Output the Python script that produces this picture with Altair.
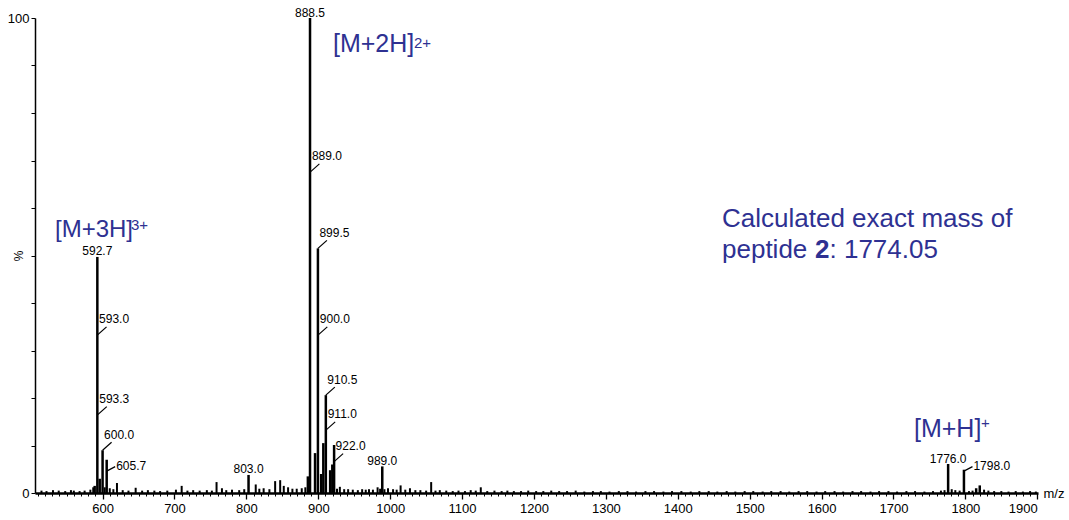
import altair as alt
import pandas as pd

# ---------------- data ----------------
peak_mz = [589.0, 592.7, 596.0, 600.0, 605.7, 803.0, 885.5, 888.5, 895.5, 899.5,
           904.0, 907.0, 910.5, 916.5, 919.5, 922.0, 989.0, 1776.0, 1798.0, 1815.0, 1820.0]
peak_int = [1.5, 49.7, 3.0, 9.0, 7.0, 3.8, 3.5, 100.0, 8.4, 51.5,
            4.0, 10.5, 20.6, 4.8, 6.0, 10.1, 5.6, 6.1, 4.9, 1.0, 1.6]

noise_mz = [515, 522, 531, 539, 548, 556, 560, 568, 575, 583, 587, 603, 610, 615, 620,
            628, 636, 646, 655, 663, 672, 680, 690, 702, 710, 718, 726, 735, 745, 752,
            758.5, 766, 772, 780, 790, 797, 813, 818, 824, 832, 840, 847, 852, 858, 864,
            870, 877, 882, 926, 930, 936, 941.5, 948, 955, 961, 966, 970.5, 976, 982.5,
            986, 992, 997, 1004, 1009, 1014.5, 1021, 1027.5, 1035, 1042, 1050, 1057, 1063,
            1069, 1078, 1087, 1095, 1104, 1112, 1119, 1126, 1135, 1145, 1155, 1163, 1172,
            1182, 1192, 1203, 1213, 1224, 1235, 1246, 1258, 1270, 1282, 1293, 1305, 1318,
            1330, 1342, 1355, 1367, 1380, 1392, 1405, 1418, 1430, 1443, 1455, 1468, 1480,
            1493, 1505, 1518, 1530, 1543, 1555, 1568, 1580, 1593, 1605, 1618, 1630, 1643,
            1655, 1668, 1680, 1693, 1705, 1718, 1730, 1743, 1755, 1766, 1771, 1781, 1786,
            1792, 1805, 1810, 1826, 1832, 1840, 1850, 1860, 1870, 1880, 1890, 1898]
noise_int = [0.5, 0.4, 0.6, 0.5, 0.4, 0.6, 0.5, 0.4, 0.5, 0.7, 1.2, 1.2, 1.0, 0.8, 2.1,
             0.6, 0.5, 1.1, 0.5, 0.6, 0.5, 0.4, 0.5, 0.7, 1.5, 0.5, 0.6, 0.5, 0.6, 0.5,
             2.3, 1.0, 0.6, 0.7, 0.6, 0.8, 1.8, 0.9, 1.0, 0.8, 2.5, 2.7, 1.5, 1.2, 0.9,
             0.9, 1.0, 1.2, 0.9, 1.3, 0.8, 0.8, 0.7, 0.6, 0.8, 0.7, 0.8, 0.7, 1.2,
             0.9, 0.8, 1.0, 0.8, 0.7, 1.6, 0.7, 1.0, 0.6, 0.6, 0.5, 2.3, 0.5,
             0.6, 0.5, 0.4, 0.5, 0.4, 0.6, 0.5, 1.2, 0.4, 0.5, 0.4, 0.5, 0.4,
             0.4, 0.5, 0.4, 0.4, 0.5, 0.4, 0.4, 0.5, 0.3, 0.4, 0.4, 0.3, 0.4,
             0.4, 0.3, 0.4, 0.4, 0.3, 0.4, 0.4, 0.3, 0.4, 0.4, 0.3, 0.4, 0.3,
             0.4, 0.4, 0.3, 0.4, 0.4, 0.3, 0.4, 0.4, 0.3, 0.4, 0.4, 0.3, 0.4,
             0.4, 0.3, 0.4, 0.4, 0.3, 0.4, 0.4, 0.3, 0.4, 0.5, 0.6, 0.8, 0.6,
             0.5, 0.4, 0.5, 0.7, 0.5, 0.4, 0.4, 0.3, 0.4, 0.3, 0.4, 0.3]

label_text = ["592.7", "593.0", "593.3", "600.0", "605.7", "803.0", "888.5", "889.0",
              "899.5", "900.0", "910.5", "911.0", "922.0", "989.0", "1776.0", "1798.0"]
label_mz = [592.7, 593.0, 593.3, 600.0, 605.7, 803.0, 888.5, 889.0,
            899.5, 900.0, 910.5, 911.0, 922.0, 989.0, 1776.0, 1798.0]
label_int = [49.7, 33.3, 16.5, 9.0, 4.6, 3.8, 100.0, 67.6,
             51.5, 33.3, 20.6, 13.3, 6.6, 5.6, 6.1, 4.6]
label_style = ["top", "up", "up", "up", "side", "top", "top", "up",
               "up", "up", "up", "up", "up", "top", "top", "side"]

x_ticks_major = list(range(600, 1901, 100))
x_ticks_minor = list(range(510, 1901, 10))
y_ticks = list(range(0, 101, 10))

# ---------------- layout ----------------
X0, X1 = 506, 1901
W, H = 1003, 475
PXU = W / (X1 - X0)
PYU = H / 100.0
FONT = "Liberation Sans"
BLUE = "#2e3192"

peaks = pd.DataFrame({"mz": peak_mz, "i": peak_int})
noise = pd.DataFrame({"mz": noise_mz, "i": noise_int})
labels = pd.DataFrame({"t": label_text, "mz": label_mz, "i": label_int, "s": label_style})
lead_up = labels[labels.s == "up"].copy()
lead_up["mz2"] = lead_up.mz + 9 / PXU
lead_up["i2"] = lead_up.i + 8 / PYU
lead_side = labels[labels.s == "side"].copy()
lead_side["mz2"] = lead_side.mz + 8.5 / PXU
lead_side["i2"] = lead_side.i + 4.5 / PYU

xscale = alt.Scale(domain=[X0, X1], nice=False, zero=False)
yscale = alt.Scale(domain=[0, 100], nice=False)

xaxis_major = alt.Axis(values=x_ticks_major, orient="bottom", tickSize=6, labelPadding=3,
                       format="d",
                       labelFontSize=13, labelFont=FONT, labelColor="black",
                       domainColor="black", domainWidth=2.5, tickColor="black", tickWidth=1.3,
                       grid=False, title="m/z", titleFont=FONT, titleFontSize=13,
                       titleFontWeight="normal", titleColor="black", titleAngle=0,
                       titleAlign="left", titleBaseline="middle", titleX=W + 5, titleY=0)
xaxis_minor = alt.Axis(values=x_ticks_minor, orient="bottom", tickSize=3, labels=False,
                       domain=False, tickColor="black", tickWidth=1, grid=False, title=None)
yaxis = alt.Axis(values=y_ticks, tickSize=4, labelPadding=2, labelFontSize=13, labelFont=FONT,
                 labelColor="black", labelExpr="datum.value == 0 || datum.value == 100 ? datum.label : ''",
                 domainColor="black", domainWidth=1.5, tickColor="black", grid=False,
                 title="%", titleFont=FONT, titleFontSize=12, titleFontWeight="normal",
                 titleColor="black", titleX=-17, titleY=H / 2, titleAngle=-90,
                 titleBaseline="middle", titleAlign="center")

sticks = alt.Chart(peaks).mark_rule(color="black", strokeWidth=2.5).encode(
    x=alt.X("mz:Q", scale=xscale, axis=xaxis_major),
    y=alt.Y("i:Q", scale=yscale, axis=yaxis),
    y2=alt.datum(0),
)
noise_l = alt.Chart(noise).mark_rule(color="black", strokeWidth=2).encode(
    x=alt.X("mz:Q", scale=xscale, axis=xaxis_minor),
    y=alt.Y("i:Q"),
    y2=alt.datum(0),
)

XN = alt.X("mz:Q", axis=None)
txt = dict(font=FONT, fontSize=12, color="black")
lab_top = alt.Chart(labels[labels.s == "top"]).mark_text(
    align="center", baseline="alphabetic", dy=-1.5, **txt).encode(
    x=XN, y="i:Q", text="t:N")
lab_up = alt.Chart(lead_up).mark_text(
    align="left", baseline="middle", dx=1.5, dy=-15.5, **txt).encode(
    x=XN, y="i:Q", text="t:N")
lab_side = alt.Chart(lead_side).mark_text(
    align="left", baseline="middle", dx=9.5, dy=-5, **txt).encode(
    x=XN, y="i:Q", text="t:N")
lead1 = alt.Chart(lead_up).mark_rule(color="black", strokeWidth=1.2).encode(
    x=XN, x2="mz2:Q", y="i:Q", y2="i2:Q")
lead2 = alt.Chart(lead_side).mark_rule(color="black", strokeWidth=1.2).encode(
    x=XN, x2="mz2:Q", y="i:Q", y2="i2:Q")


def note(text, px, py, size, baseline="alphabetic", weight="normal"):
    return alt.Chart(pd.DataFrame({"t": [text]})).mark_text(
        align="left", baseline=baseline, font=FONT, fontSize=size, color=BLUE,
        fontWeight=weight).encode(x=alt.value(px), y=alt.value(py), text="t:N")


notes = [
    note("[M+3H]", 20, 219, 24),
    note("3+", 96, 207, 15, "middle"),
    note("[M+2H]", 298, 34, 25),
    note("2+", 379, 25, 15, "middle"),
    note("[M+H]", 879, 419, 25),
    note("+", 946, 405, 15, "middle"),
    note("Calculated exact mass of", 687, 209, 26),
    note("peptide ", 687, 240, 26),
    note("2", 780, 240, 26, weight="bold"),
    note(": 1774.05", 794.5, 240, 26),
]

chart = alt.layer(sticks, noise_l, lead1, lead2, lab_top, lab_up, lab_side, *notes).resolve_axis(
    x="independent"
).properties(
    width=W, height=H,
    autosize=alt.AutoSizeParams(type="none"),
    padding={"left": 35, "top": 18, "right": 31, "bottom": 27},
).configure_view(stroke=None)

chart.save("out.html", embed_options={"renderer": "svg", "actions": False})
